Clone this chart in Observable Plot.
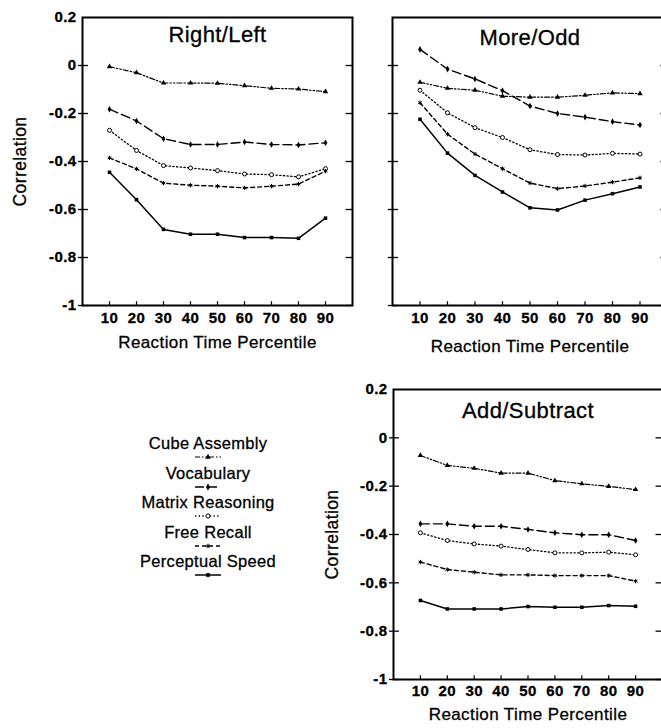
<!DOCTYPE html>
<html><head><meta charset="utf-8">
<script src="https://cdn.jsdelivr.net/npm/d3@7"></script>
<script src="https://cdn.jsdelivr.net/npm/@observablehq/plot@0.6"></script>
<style>
html,body{margin:0;padding:0;background:#fff;overflow:hidden;}
#root{position:relative;width:661px;height:728px;overflow:hidden;font-family:"Liberation Sans",Arial,Helvetica,sans-serif;color:#000;}
.panel{position:absolute;}
.panel text{stroke:#000;stroke-width:0.3px;}
#legend{position:absolute;left:128px;top:436px;width:160px;text-align:center;font-size:16.5px;line-height:15px;letter-spacing:0.3px;-webkit-text-stroke:0.3px #000;}
#legend .item{height:29.5px;}
#legend svg{display:block;margin:0 auto;}
</style></head><body><div id="root"><div id="legend"></div></div>
<script>
// ---- data ----
const percentiles = [10, 20, 30, 40, 50, 60, 70, 80, 90];
const seriesNames = ["Cube Assembly", "Vocabulary", "Matrix Reasoning", "Free Recall", "Perceptual Speed"];
const yTicks = [0.2, 0, -0.2, -0.4, -0.6, -0.8, -1];
const panelTitles = ["Right/Left", "More/Odd", "Add/Subtract"];
const yAxisLabel = "Correlation";
const xAxisLabel = "Reaction Time Percentile";

// Right/Left
const rlCube   = [-0.005, -0.03, -0.073, -0.073, -0.074, -0.084, -0.095, -0.098, -0.109];
const rlVocab  = [-0.182, -0.231, -0.305, -0.329, -0.329, -0.319, -0.329, -0.331, -0.322];
const rlMatrix = [-0.27, -0.354, -0.417, -0.427, -0.438, -0.452, -0.455, -0.464, -0.43];
const rlRecall = [-0.385, -0.431, -0.49, -0.499, -0.503, -0.51, -0.503, -0.494, -0.44];
const rlSpeed  = [-0.445, -0.559, -0.683, -0.703, -0.703, -0.717, -0.717, -0.72, -0.636];

// More/Odd
const moCube   = [-0.07, -0.095, -0.103, -0.128, -0.132, -0.132, -0.124, -0.114, -0.117];
const moVocab  = [0.067, -0.015, -0.056, -0.105, -0.169, -0.2, -0.215, -0.234, -0.248];
const moMatrix = [-0.103, -0.197, -0.259, -0.3, -0.351, -0.371, -0.373, -0.366, -0.369];
const moRecall = [-0.155, -0.286, -0.369, -0.43, -0.49, -0.513, -0.502, -0.486, -0.468];
const moSpeed  = [-0.224, -0.365, -0.458, -0.527, -0.593, -0.602, -0.561, -0.534, -0.506];

// Add/Subtract
const asCube   = [-0.073, -0.114, -0.126, -0.146, -0.146, -0.177, -0.19, -0.201, -0.214];
const asVocab  = [-0.356, -0.356, -0.366, -0.366, -0.379, -0.393, -0.401, -0.401, -0.425];
const asMatrix = [-0.393, -0.425, -0.439, -0.448, -0.462, -0.476, -0.476, -0.473, -0.484];
const asRecall = [-0.514, -0.545, -0.556, -0.567, -0.567, -0.57, -0.57, -0.57, -0.593];
const asSpeed  = [-0.673, -0.708, -0.708, -0.708, -0.698, -0.701, -0.701, -0.694, -0.697];

// ---- styles ----
const styleOf = {
  "Cube Assembly":    {dash: "5,2,1.5,2,1.5,2", symbol: "triangle", fill: "black", stroke: "none", sw: 1.2},
  "Vocabulary":       {dash: "9,4", symbol: "diamond", fill: "black", stroke: "none", sw: 1.4},
  "Matrix Reasoning": {dash: "1.3,2.4", symbol: "circle", fill: "white", stroke: "black", sw: 1.3},
  "Free Recall":      {dash: "4,3", symbol: "asterisk", fill: "none", stroke: "black", sw: 1.4},
  "Perceptual Speed": {dash: null, symbol: "square", fill: "black", stroke: "none", sw: 1.5}
};

function rowsOf(arrays) {
  return seriesNames.flatMap((s, i) => percentiles.map((p, j) => ({series: s, pct: p, r: arrays[i][j]})));
}
const fmt = d => String(+d.toFixed(1));

function makePanel(cfg) {
  const rows = rowsOf(cfg.arrays);
  const marks = [
    Plot.frame({stroke: "black", strokeWidth: 2}),
    Plot.ruleY(yTicks.slice(1), {y: d => d, x1: -1.5, x2: 2.2, strokeWidth: 1.3}),
    Plot.ruleY(yTicks.slice(1), {y: d => d, x1: 97.6, x2: 100, strokeWidth: 1.3}),
    Plot.ruleX(percentiles, {x: d => d, y1: -1, y2: -0.984, strokeWidth: 1.2}),
    Plot.axisX({ticks: percentiles, tickSize: 0, tickPadding: cfg.xPad, label: null, tickFormat: d => d, fontSize: 15, fontWeight: "bold"}),
    Plot.text([cfg.title], {frameAnchor: "top", lineAnchor: "middle", dy: cfg.titleDy, fontSize: 22, fontWeight: "normal"}),
    Plot.text([xAxisLabel], {frameAnchor: "bottom", lineAnchor: "middle", dy: cfg.xLabDy, fontSize: 17, fontWeight: "normal"})
  ];
  if (cfg.yLabels) {
    marks.push(Plot.axisY({ticks: yTicks, tickSize: 0, tickPadding: 6, tickFormat: fmt, label: null, fontSize: 15, fontWeight: "bold"}));
    marks.push(Plot.text([yAxisLabel], {frameAnchor: "left", textAnchor: "middle", lineAnchor: "middle", dx: cfg.yLabDx, rotate: -90, fontSize: 17.5, fontWeight: "normal"}));
  }
  for (const s of seriesNames) {
    const st = styleOf[s];
    const data = rows.filter(d => d.series === s);
    marks.push(Plot.line(data, {x: "pct", y: "r", stroke: "black", strokeWidth: st.sw, strokeDasharray: st.dash || undefined}));
  }
  for (const s of seriesNames) {
    const st = styleOf[s];
    const data = rows.filter(d => d.series === s);
    marks.push(Plot.dot(data, {x: "pct", y: "r", symbol: () => st.symbol, r: 2, fill: st.fill, stroke: st.stroke, strokeWidth: 1}));
  }
  const chart = Plot.plot({
    width: cfg.width, height: cfg.height,
    marginLeft: cfg.mL, marginRight: cfg.mR, marginTop: cfg.mT, marginBottom: cfg.mB,
    x: {domain: [0, 100], axis: null},
    y: {domain: [-1, 0.2], axis: null},
    symbol: {type: "identity"},
    style: {fontFamily: "'Liberation Sans', Arial, Helvetica, sans-serif", color: "black", background: "transparent", overflow: "visible", letterSpacing: "0.4px"},
    marks
  });
  chart.classList.add("panel");
  chart.style.left = cfg.left + "px";
  chart.style.top = cfg.top + "px";
  document.getElementById("root").appendChild(chart);
}

makePanel({title: panelTitles[0], arrays: [rlCube, rlVocab, rlMatrix, rlRecall, rlSpeed],
  left: 0, top: 0, width: 360, height: 360, mL: 82, mR: 8, mT: 17, mB: 55,
  yLabels: true, yLabDx: -62, titleDy: 17, xPad: 7, xLabDy: 37});
makePanel({title: panelTitles[1], arrays: [moCube, moVocab, moMatrix, moRecall, moSpeed],
  left: 340, top: 0, width: 330, height: 360, mL: 52, mR: 3, mT: 17, mB: 55,
  yLabels: false, titleDy: 20, xPad: 7, xLabDy: 41});
makePanel({title: panelTitles[2], arrays: [asCube, asVocab, asMatrix, asRecall, asSpeed],
  left: 320, top: 360, width: 350, height: 368, mL: 73, mR: 8, mT: 29, mB: 49,
  yLabels: true, yLabDx: -61, titleDy: 21, xPad: 6, xLabDy: 35});

// ---- legend ----
const legend = d3.select("#legend");
const symMap = {triangle: d3.symbolTriangle, diamond: d3.symbolDiamond, circle: d3.symbolCircle, asterisk: d3.symbolAsterisk, square: d3.symbolSquare};
for (const s of seriesNames) {
  const st = styleOf[s];
  const item = legend.append("div").attr("class", "item");
  item.append("div").text(s);
  const svg = item.append("svg").attr("width", 34).attr("height", 12);
  svg.append("line").attr("x1", 4).attr("x2", 30).attr("y1", 6).attr("y2", 6)
    .attr("stroke", "black").attr("stroke-width", st.sw).attr("stroke-dasharray", st.dash);
  svg.append("path").attr("transform", "translate(17,6)")
    .attr("d", d3.symbol(symMap[st.symbol], 14)())
    .attr("fill", st.fill).attr("stroke", st.stroke);
}
</script></body></html>
